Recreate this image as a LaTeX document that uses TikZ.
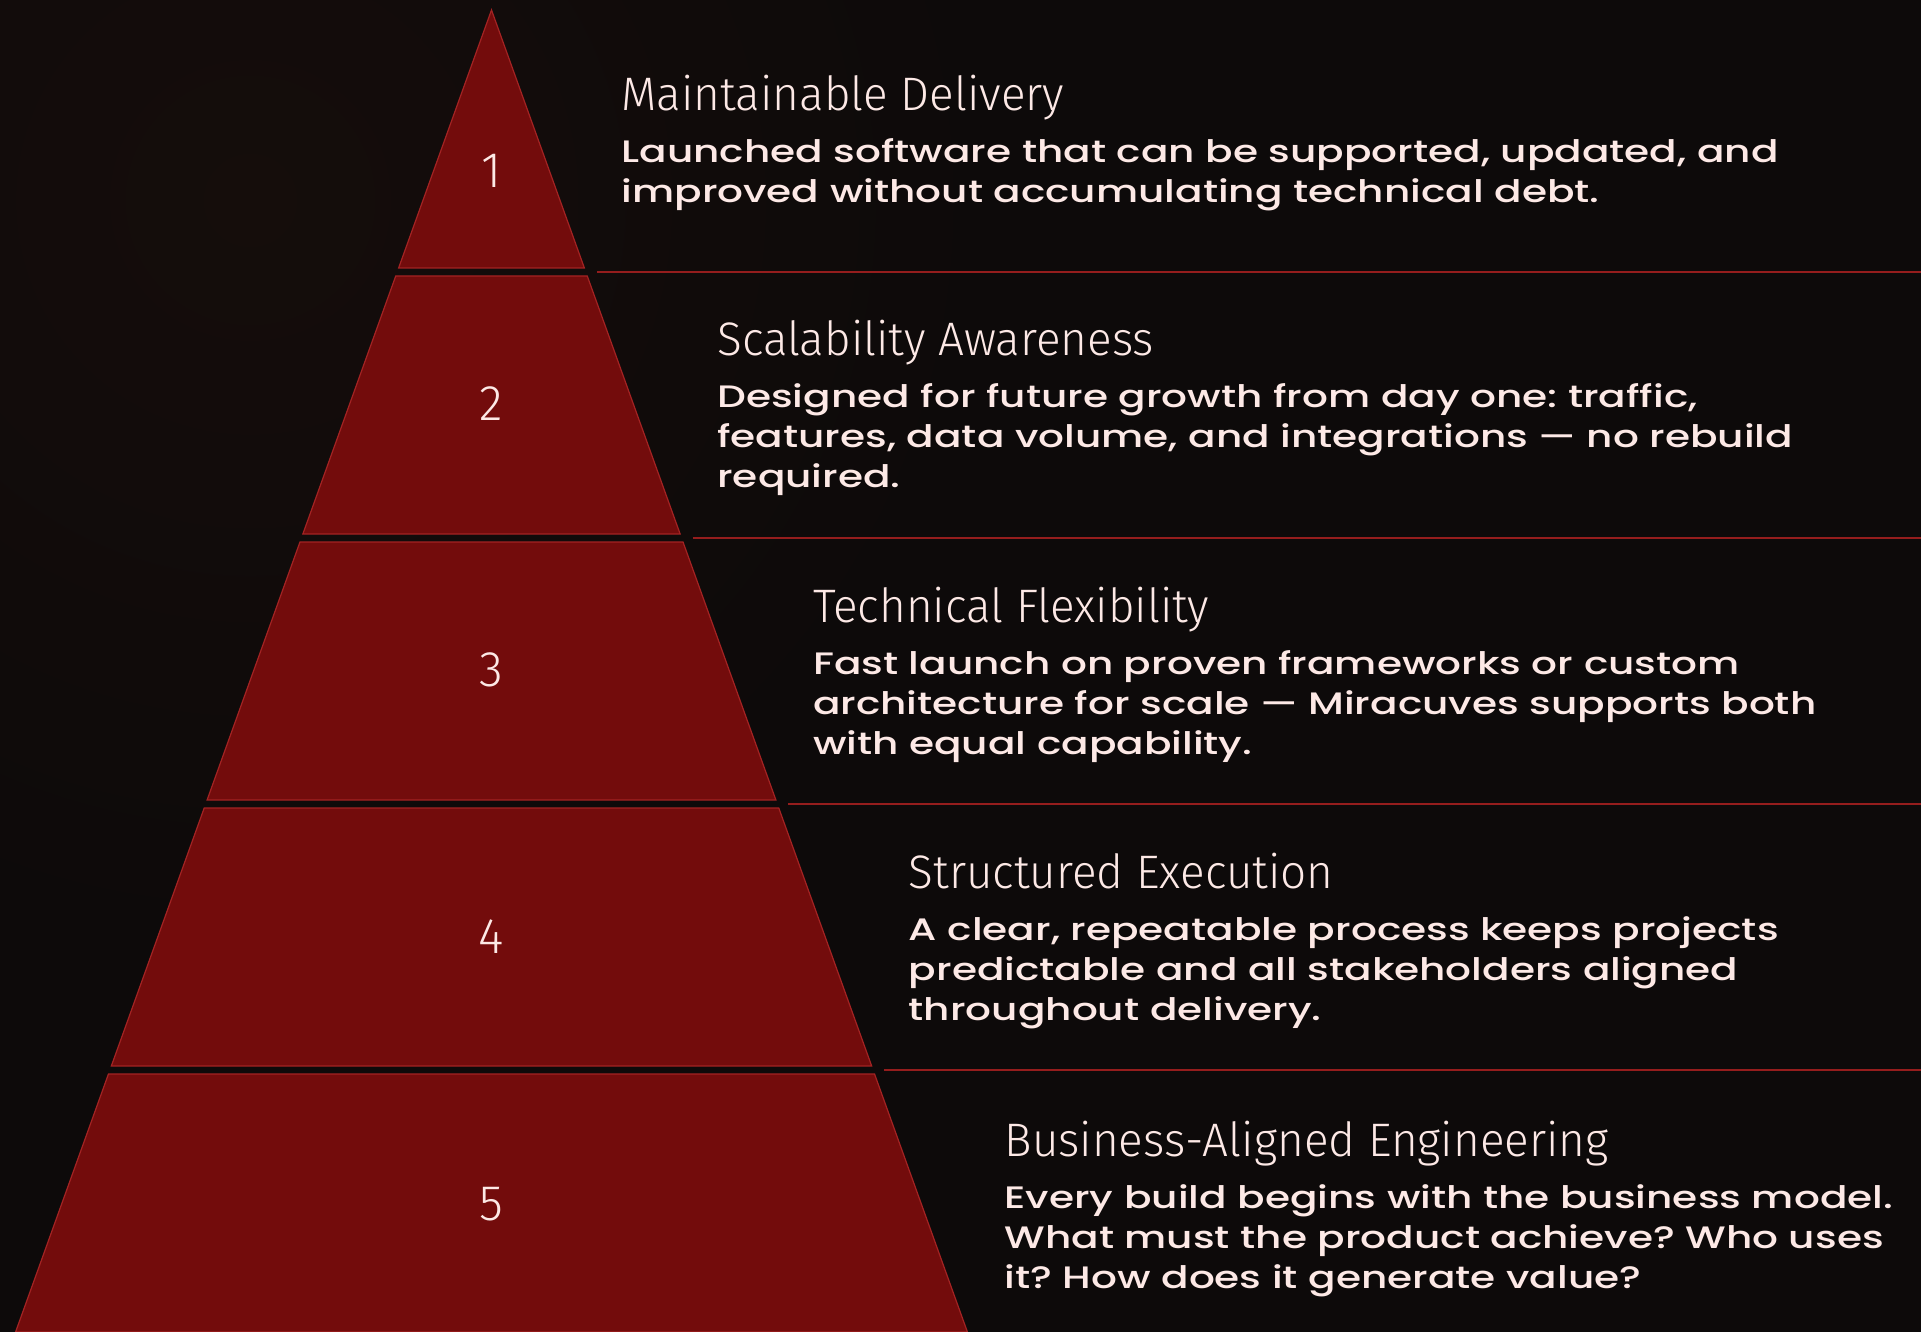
\documentclass[tikz,border=0pt]{standalone}
\usepackage{fontspec}
\setmainfont{Poppins}
\newfontfamily\titlefont{Fira Sans Light}[FakeStretch=0.975]
\newfontfamily\bodyfont{Poppins Medium}[FakeStretch=1.31]
\frenchspacing

\definecolor{bgdark}{HTML}{0D0A0A}
\definecolor{bgwarm}{HTML}{150D0B}
\definecolor{tierred}{HTML}{730C0C}
\definecolor{tieredge}{HTML}{A32323}
\definecolor{ruleline}{HTML}{951D1D}
\definecolor{pinktext}{HTML}{FDE9E6}

\begin{document}
\begin{tikzpicture}[x=1pt, y=-1pt,
    tier/.style={fill=tierred, draw=tieredge, line width=1.2pt},
    rulesep/.style={draw=ruleline, line width=1.8pt},
    tiernum/.style={text=pinktext, font=\titlefont\fontsize{50}{50}\selectfont, inner sep=0pt},
    heading/.style={anchor=base west, text=pinktext, font=\titlefont\fontsize{47}{47}\selectfont, inner sep=0pt},
    bodyline/.style={anchor=base west, text=pinktext, font=\bodyfont\fontsize{31}{31}\selectfont, inner sep=0pt}]

\fill[bgdark] (0,0) rectangle (1921,1332);
\useasboundingbox (0,0) rectangle (1921,1332);
\begin{scope}
    \clip (0,0) rectangle (1921,1332);
    \shade[inner color=bgwarm, outer color=bgdark] (250,200) circle (750);
\end{scope}

% pyramid tiers
\foreach \k/\ny in {1/171, 2/404, 3/670, 4/937, 5/1204} {
    \pgfmathsetmacro\yt{10+(\k-1)*266}
    \pgfmathsetmacro\yb{2+\k*266}
    \pgfmathsetmacro\wt{0.36*(\yt-10)}
    \pgfmathsetmacro\wb{0.36*(\yb-10)}
    \draw[tier] (491.5-\wt,\yt) -- (491.5+\wt,\yt) -- (491.5+\wb,\yb) -- (491.5-\wb,\yb) -- cycle;
    \node[tiernum] (num\k) at (491.5,\ny) {\k};
}

% separators
\foreach \k in {1,...,4} {
    \pgfmathsetmacro\ys{6+\k*266}
    \pgfmathsetmacro\xs{491.5+0.36*(\ys-10)+11}
    \draw[rulesep] (\xs,\ys) -- (1921,\ys);
}

% texts
\foreach \k/\base/\ttl/\body in {%
    1/111/{Maintainable Delivery}/{{Launched software that can be supported, updated, and},{improved without accumulating technical debt.}},%
    2/355/{Scalability Awareness}/{{Designed for future growth from day one: traffic,},{features, data volume, and integrations — no rebuild},{required.}},%
    3/622/{Technical Flexibility}/{{Fast launch on proven frameworks or custom},{architecture for scale — Miracuves supports both},{with equal capability.}},%
    4/888/{Structured Execution}/{{A clear, repeatable process keeps projects},{predictable and all stakeholders aligned},{throughout delivery.}},%
    5/1156/{Business-Aligned Engineering}/{{Every build begins with the business model.},{What must the product achieve? Who uses},{it? How does it generate value?}}%
} {
    \pgfmathsetmacro\xt{491.5+0.36*(\k*266-8)+37}
    \node[heading] (head\k) at (\xt,\base) {\ttl};
    \foreach \l [count=\j] in \body {
        \node[bodyline] (body\k-\j) at (\xt,\base+52+40*\j-40) {\l};
    }
}
\end{tikzpicture}
\end{document}
